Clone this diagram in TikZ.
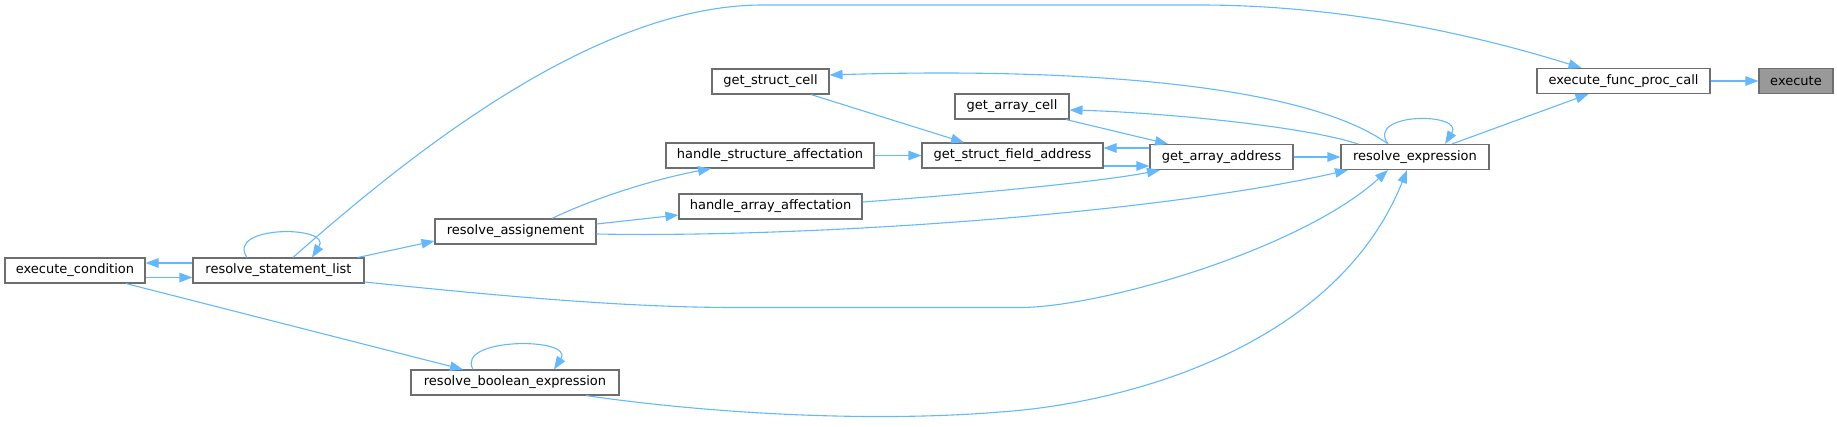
\documentclass[tikz,border=0pt]{standalone}
\usepackage{fontspec}
\setmainfont{DejaVu Sans}
\usetikzlibrary{arrows.meta}
\definecolor{edgeblue}{HTML}{63B8FF}
\definecolor{nodeborder}{HTML}{6E6E6E}
\definecolor{focusfill}{HTML}{999999}
\begin{document}
\begin{tikzpicture}[x=1pt,y=-1pt,
  fn/.style={draw=nodeborder, line width=1.1pt, fill=white, inner sep=0pt,
    minimum height=25pt, font=\fontsize{13}{15}\selectfont, text=black},
  focus/.style={fn, fill=focusfill},
  call/.style={draw=edgeblue, line width=1.1pt, -{Triangle[length=13pt,width=9.5pt]}}
]
\useasboundingbox (0,0) rectangle (1837,426);

\node[focus, minimum width=74pt]  (exe)  at (1796,81)    {execute};
\node[fn, minimum width=173pt]    (efpc) at (1623.5,81)  {execute\_func\_proc\_call};
\node[fn, minimum width=148pt]    (rexp) at (1415,157)   {resolve\_expression};
\node[fn, minimum width=143pt]    (gaa)  at (1221.5,157) {get\_array\_address};
\node[fn, minimum width=114pt]    (gac)  at (1012,106.5) {get\_array\_cell};
\node[fn, minimum width=117pt]    (gsc)  at (770.5,81.5) {get\_struct\_cell};
\node[fn, minimum width=181pt]    (gsfa) at (1012.5,155.5) {get\_struct\_field\_address};
\node[fn, minimum width=208pt]    (hsa)  at (770,155.5)  {handle\_structure\_affectation};
\node[fn, minimum width=183pt]    (haa)  at (770.5,206.5) {handle\_array\_affectation};
\node[fn, minimum width=161pt]    (ra)   at (515.5,231.5) {resolve\_assignement};
\node[fn, minimum width=171pt]    (rsl)  at (278.5,270.5) {resolve\_statement\_list};
\node[fn, minimum width=140pt]    (ec)   at (75,270.5)   {execute\_condition};
\node[fn, minimum width=208pt]    (rbe)  at (515,382.5)  {resolve\_boolean\_expression};

% execute_func_proc_call -> execute
\draw[call] (efpc) -- (exe);
% resolve_expression -> execute_func_proc_call
\draw[call] ([xshift=37pt]rexp.north) -- ([xshift=-35pt]efpc.south);
% resolve_statement_list -> execute_func_proc_call (long arc)
\draw[call] ([xshift=14.5pt]rsl.north) .. controls (420,145) and (600,5) .. (763,5)
  -- (1200,5) .. controls (1330,5) and (1460,30) .. ([xshift=-42pt]efpc.north);
% resolve_expression self loop
\draw[call] ([xshift=-27pt]rexp.north) .. controls (1365,112) and (1465,112) .. ([xshift=30pt]rexp.north);
% resolve_expression -> get_struct_cell
\draw[call] ([xshift=-27pt]rexp.north) .. controls (1300,80) and (1050,68) .. ([yshift=6.5pt]gsc.east);
% resolve_expression -> get_array_cell
\draw[call] ([xshift=-57pt]rexp.north) .. controls (1300,125) and (1150,112) .. ([yshift=-3.5pt]gac.east);
% get_array_cell -> get_array_address
\draw[call] ([xshift=54pt]gac.south) -- ([xshift=-53.5pt]gaa.north);
% get_array_address <-> get_struct_field_address
\draw[call] ([yshift=9pt]gaa.west) -- ([yshift=7.5pt]gsfa.east);
\draw[call] ([yshift=-10.5pt]gsfa.east) -- ([yshift=-9pt]gaa.west);
% get_struct_cell -> get_struct_field_address
\draw[call] ([xshift=40.5pt]gsc.south) -- ([xshift=-48.5pt]gsfa.north);
% handle_structure_affectation -> get_struct_field_address
\draw[call] (hsa) -- (gsfa);
% handle_array_affectation -> get_array_address
\draw[call] ([yshift=4.5pt]haa.east) .. controls (1000,192) and (1110,180) .. ([xshift=-61.5pt]gaa.south);
% get_array_address -> resolve_expression
\draw[call] (gaa) -- (rexp);
% resolve_assignement -> handle_structure_affectation
\draw[call] ([xshift=36.5pt]ra.north) .. controls (590,200) and (650,180) .. ([xshift=-59pt]hsa.south);
% resolve_assignement -> handle_array_affectation
\draw[call] ([yshift=7.5pt]ra.east) -- ([yshift=-8.5pt]haa.west);
% resolve_assignement -> resolve_expression
\draw[call] ([yshift=-2.5pt]ra.east) .. controls (800,238) and (1150,215) .. ([xshift=-67pt]rexp.south);
% resolve_statement_list -> resolve_assignement
\draw[call] ([xshift=79.5pt]rsl.north) -- ([yshift=-9.5pt]ra.west);
% resolve_statement_list <-> execute_condition
\draw[call] ([yshift=7.5pt]rsl.west) -- ([yshift=7.5pt]ec.east);
\draw[call] ([yshift=-7pt]ec.east) -- ([yshift=-7pt]rsl.west);
% resolve_statement_list self loop
\draw[call] ([xshift=-31.5pt]rsl.north) .. controls (225,225) and (333,225) .. ([xshift=33.5pt]rsl.north);
% execute_condition -> resolve_boolean_expression
\draw[call] ([xshift=51pt]ec.south) -- ([xshift=-52pt]rbe.north);
% resolve_boolean_expression self loop
\draw[call] ([xshift=-42pt]rbe.north) .. controls (455,337) and (575,337) .. ([xshift=39pt]rbe.north);
% resolve_statement_list -> resolve_expression
\draw[call] ([yshift=-11.5pt]rsl.east) .. controls (500,296) and (620,307) .. (730,307.5)
  -- (1020,307.5) .. controls (1100,307.5) and (1300,250) .. ([xshift=-27pt]rexp.south);
% resolve_boolean_expression -> resolve_expression
\draw[call] ([xshift=71pt]rbe.south) .. controls (720,415) and (880,422) .. (1000,412)
  .. controls (1120,404) and (1335,350) .. ([xshift=-8pt]rexp.south);
\end{tikzpicture}
\end{document}
